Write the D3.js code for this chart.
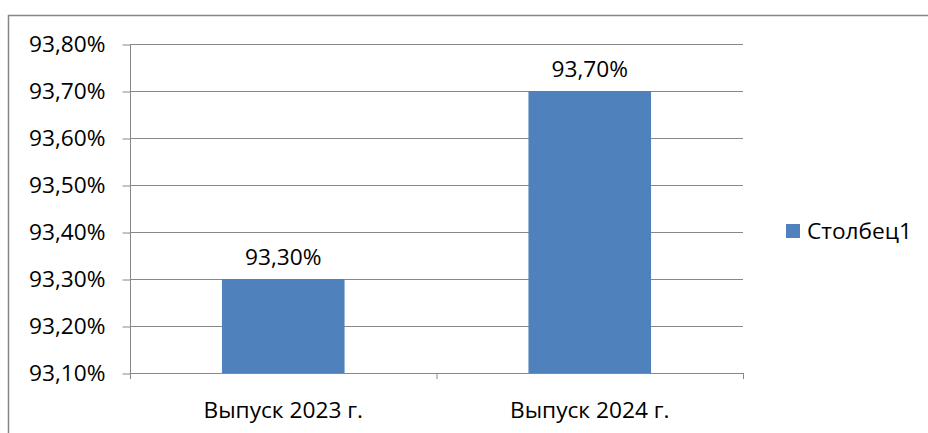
<!DOCTYPE html>
<html><head><meta charset="utf-8">
<script src="https://cdn.jsdelivr.net/npm/d3@7"></script>
<style>body{margin:0;background:#fff}svg{display:block}text{font-family:"Open Sans","Noto Sans",sans-serif;fill:#000}</style>
</head><body><svg id="c" width="928" height="433"></svg>
<script>
const categories = ["Выпуск 2023 г.", "Выпуск 2024 г."];
const values = [93.30, 93.70];
const seriesName = "Столбец1";
const yTicks = [93.10, 93.20, 93.30, 93.40, 93.50, 93.60, 93.70, 93.80];

const FS = "22.7px";
const FF = "'Open Sans','Noto Sans',sans-serif";
const fmt = v => v.toFixed(2).replace(".", ",") + "%";
const svg = d3.select("#c");
const L = 130, R = 743, T = 44, B = 373;
const grid = "#888888";

svg.append("rect").attr("x", 8.5).attr("y", 15.5).attr("width", 930).attr("height", 430)
  .attr("fill", "none").attr("stroke", "#878787").attr("stroke-width", 1.5);

const y = d3.scaleLinear().domain([93.10, 93.80]).range([B, T]);
const x = d3.scaleBand().domain(categories).range([L, R]).paddingInner(0.6).paddingOuter(0.3);

// gridlines
svg.append("g").selectAll("line").data(yTicks.slice(1)).join("line")
  .attr("x1", L).attr("x2", R).attr("y1", d => y(d) + 0.5).attr("y2", d => y(d) + 0.5)
  .attr("stroke", grid).attr("stroke-width", 1);

// bars
svg.append("g").selectAll("rect").data(values).join("rect")
  .attr("x", (d, i) => x(categories[i])).attr("width", x.bandwidth())
  .attr("y", d => y(d)).attr("height", d => B - y(d))
  .attr("fill", "#4F81BD");

// y axis
const yAxis = d3.axisLeft(y).tickValues(yTicks).tickFormat(fmt).tickSize(8).tickPadding(17);
const gy = svg.append("g").attr("transform", `translate(${L + 0.5},0.5)`).call(yAxis);
gy.selectAll("line, path").attr("stroke", grid);
gy.select(".domain").attr("d", `M0,${T}V${B}`);
gy.selectAll("text").style("font-size", FS).style("font-family", FF).attr("fill", "#000");

// x axis
const x0 = d3.scalePoint().domain(d3.range(categories.length + 1)).range([L, R]);
svg.append("line").attr("x1", L).attr("x2", R).attr("y1", B + 0.5).attr("y2", B + 0.5).attr("stroke", grid);
svg.append("g").selectAll("line").data(x0.domain()).join("line")
  .attr("x1", d => x0(d) + 0.5).attr("x2", d => x0(d) + 0.5).attr("y1", B).attr("y2", B + 6)
  .attr("stroke", grid);
svg.append("g").selectAll("text").data(categories).join("text")
  .attr("x", d => x(d) + x.bandwidth() / 2).attr("y", 410).attr("dy", "0.35em")
  .attr("text-anchor", "middle").style("font-size", FS).text(d => d);

// data labels
svg.append("g").selectAll("text").data(values).join("text")
  .attr("x", (d, i) => x(categories[i]) + x.bandwidth() / 2).attr("y", d => y(d) - 22).attr("dy", "0.35em")
  .attr("text-anchor", "middle").style("font-size", FS).text(d => fmt(d));

// legend
svg.append("rect").attr("x", 786).attr("y", 224).attr("width", 14).attr("height", 14).attr("fill", "#4F81BD");
svg.append("text").attr("x", 807).attr("y", 231).attr("dy", "0.35em").style("font-size", FS).text(seriesName);
</script></body></html>
